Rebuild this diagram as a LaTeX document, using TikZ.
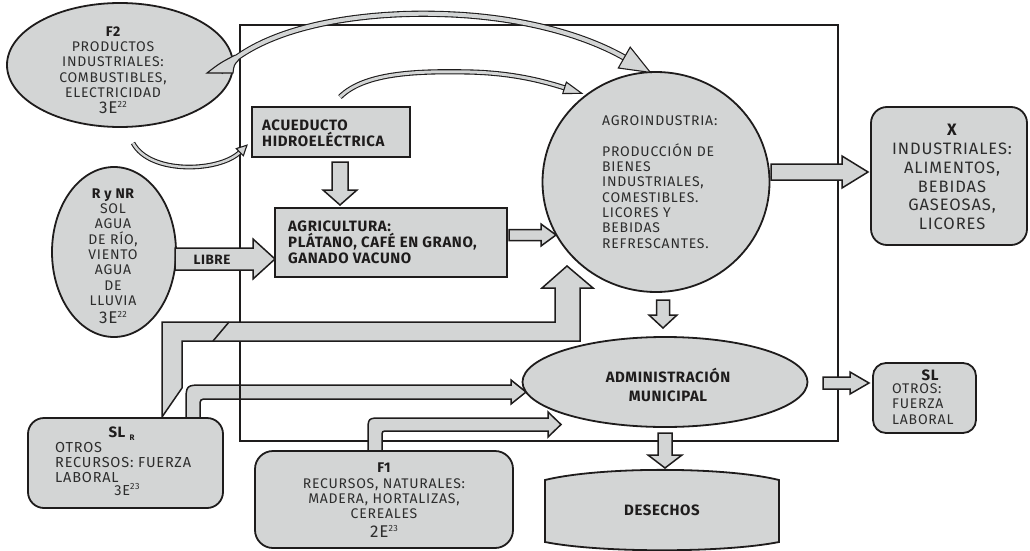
\documentclass[tikz,border=0pt]{standalone}
\usepackage{fontspec}
\setmainfont{Fira Sans}[LetterSpace=5.5,BoldFeatures={LetterSpace=4}]
\usetikzlibrary{shapes.geometric,decorations.markings,calc}
\definecolor{fillg}{RGB}{211,213,213}
\definecolor{ln}{RGB}{30,28,28}
\definecolor{txt}{RGB}{45,45,45}
\newcommand\fsN{\fontsize{14}{15.3}\selectfont}
\newcommand\fsB{\bfseries\fontsize{15}{16}\selectfont}
\newcommand\fsBig{\fontsize{17}{18}\selectfont}
\newcommand\supx[1]{\raisebox{6pt}{\fontsize{9}{9}\selectfont #1}}
\newcommand\hblk[5]{\draw[barrow] let \p1=(#1), \p2=(#2) in (\x1,\y2+#3pt) -- (\x2-#5pt,\y2+#3pt) -- (\x2-#5pt,\y2+#4pt) -- (\x2,\y2) -- (\x2-#5pt,\y2-#4pt) -- (\x2-#5pt,\y2-#3pt) -- (\x1,\y2-#3pt) -- cycle;}
\newcommand\vblk[5]{\draw[barrow] let \p1=(#1), \p2=(#2) in (\x2-#3pt,\y1) -- (\x2-#3pt,\y2+#5pt) -- (\x2-#4pt,\y2+#5pt) -- (\x2,\y2) -- (\x2+#4pt,\y2+#5pt) -- (\x2+#3pt,\y2+#5pt) -- (\x2+#3pt,\y1) -- cycle;}
\tikzset{
  shapeb/.style={draw=ln, line width=1.8pt, fill=fillg, inner sep=0pt},
  barrow/.style={draw=ln, line width=1.5pt, fill=fillg, line join=miter},
  tx/.style={text=txt, align=center, inner sep=0pt, font=\fsN},
  txb/.style={text=ln, align=center, inner sep=0pt, font=\fsB},
  cband/.style={draw=ln, line width=1.1pt, double=fillg, double distance=#1},
  chead/.style n args={2}{postaction={decorate,decoration={markings,mark=at position 0.998 with {\draw[draw=ln,line width=1.1pt,fill=fillg,line join=miter] (0,-#2) -- (#1,0) -- (0,#2) -- cycle;}}}}
}
\begin{document}
\begin{tikzpicture}[x=1pt,y=-1pt]
\useasboundingbox (0,0) rectangle (1030,551);

% band SL_R -> admin (under frame)
\coordinate (b2tip) at (526,392);
\draw[barrow] (186,420) -- (186,403) .. controls (186,385) .. (204,385) -- (511,385) -- (511,380) -- (b2tip) -- (511,404) -- (511,399) -- (208,399) .. controls (200,399) .. (200,407) -- (200,420) -- cycle;

% frame
\node[draw=ln, line width=1.8pt, minimum width=598, minimum height=416, inner sep=0] (frame) at (539,233) {};

% band SL_R -> agro
\coordinate (b1tip) at (567,266);
\draw[barrow] (162,417) -- (162,322) -- (555,322) -- (555,288) -- (542,288) -- (b1tip) -- (593,288) -- (580,288) -- (580,341) -- (182,341) -- (182,388) -- cycle;
\draw[draw=ln, line width=1.5pt] (229,322) -- (213,341);

% band F1 -> frame
\coordinate (b3tip) at (561,424.5);
\draw[barrow] (368,453) -- (368,432) .. controls (368,418) .. (382,418) -- (548,418) -- (548,412) -- (b3tip) -- (548,437) -- (548,431) -- (388,431) .. controls (382,431) .. (382,437) -- (382,453) -- cycle;

% shapes
\node[shapeb, ellipse, minimum width=226, minimum height=124] (f2) at (120,65) {};
\node[shapeb, ellipse, minimum width=124, minimum height=170] (rnr) at (114,252) {};
\node[shapeb, rectangle, minimum width=158, minimum height=50] (acu) at (331,132) {};
\node[shapeb, rectangle, minimum width=232, minimum height=69] (agri) at (391,242.5) {};
\node[shapeb, ellipse, minimum width=227, minimum height=220] (agro) at (656,182) {};
\node[shapeb, rectangle, rounded corners=16pt, minimum width=156, minimum height=138] (xb) at (949,176) {};
\node[shapeb, ellipse, minimum width=285, minimum height=90] (adm) at (665,382) {};
\node[shapeb, rectangle, rounded corners=13pt, minimum width=103, minimum height=70] (slb) at (924.5,398) {};
\node[shapeb, rectangle, rounded corners=18pt, minimum width=258, minimum height=97] (f1) at (384,499.5) {};
\node[shapeb, rectangle, rounded corners=16pt, minimum width=195, minimum height=90] (slr) at (125.5,463) {};
\draw[shapeb] (545,480) .. controls (600,466.5) and (724,466.5) .. (779,480) -- (779,542) .. controls (724,553) and (600,553) .. (545,542) -- cycle;
\node[txb] (des) at (662,510) {DESECHOS};

% block arrows
\coordinate (a1s) at (340,162); \coordinate (a1e) at (340,205);
\vblk{a1s}{a1e}{8}{17}{15}
\coordinate (a2s) at (175,259); \coordinate (a2e) at (275,259);
\hblk{a2s}{a2e}{11}{20}{22}
\coordinate (a3s) at (509,235); \coordinate (a3e) at (556,235);
\hblk{a3s}{a3e}{5.5}{11}{15}
\coordinate (a4s) at (771,172); \coordinate (a4e) at (868,172);
\hblk{a4s}{a4e}{8}{16}{26}
\coordinate (a5s) at (663,300); \coordinate (a5e) at (663,328);
\vblk{a5s}{a5e}{6.5}{14}{13}
\coordinate (a6s) at (823,383); \coordinate (a6e) at (869,383);
\hblk{a6s}{a6e}{6}{11}{19}
\coordinate (a7s) at (665,433); \coordinate (a7e) at (665,468);
\vblk{a7s}{a7e}{7}{17}{13}

% curved arrows
\coordinate (c1s) at (220,72); \coordinate (c1e) at (625,58);
\draw[cband=4pt] (c1s) .. controls (270,20) and (380,12) .. (440,14) .. controls (520,16) and (585,35) .. (c1e);
\path[chead={30}{12}] (c1s) .. controls (270,20) and (380,12) .. (440,14) .. controls (520,16) and (585,35) .. (c1e);
\fill[fillg] (207,73) -- (233,73) .. controls (234,65) .. (238.5,60.2) -- (234.9,55.2) .. controls (220,63) .. (207,73) -- cycle;
\draw[draw=ln, line width=1.1pt, line join=miter] (238.5,60.2) .. controls (234,65) .. (233,73) -- (207,73) .. controls (220,63) .. (234.9,55.2);
\coordinate (c2s) at (340,97); \coordinate (c2e) at (565,88);
\draw[cband=3pt] (c2s) .. controls (365,72) and (420,71) .. (470,72) .. controls (510,73) and (540,80) .. (c2e);
\path[chead={18}{6}] (c2s) .. controls (365,72) and (420,71) .. (470,72) .. controls (510,73) and (540,80) .. (c2e);
\coordinate (c3s) at (133,143); \coordinate (c3e) at (240,152);
\draw[cband=2.5pt] (c3s) .. controls (150,175) and (220,172) .. (c3e);
\path[chead={10}{5}] (c3s) .. controls (150,175) and (220,172) .. (c3e);

% texts
\node[tx] (f2t) at (113,62) {\textbf{\color{ln}F2}\\PRODUCTOS\\INDUSTRIALES:\\COMBUSTIBLES,\\ELECTRICIDAD};
\node[tx, font=\fsBig] (f2n) at (113,108) {3E\supx{22}};
\node[tx] (rnrt) at (113,247) {\textbf{\color{ln}R y NR}\\SOL\\AGUA\\DE RÍO,\\VIENTO\\AGUA\\DE\\LLUVIA};
\node[tx, font=\fsBig] (rnrn) at (113,318) {3E\supx{22}};
\node[txb, align=left, anchor=west] (acut) at (262,133) {ACUEDUCTO\\HIDROELÉCTRICA};
\node[txb, align=left, anchor=west] (agrit) at (288,242) {AGRICULTURA:\\PLÁTANO, CAFÉ EN GRANO,\\GANADO VACUNO};
\node[txb, font=\bfseries\fontsize{13.5}{15}\selectfont] (libre) at (212,260) {LIBRE};
\node[tx, align=left, anchor=west] (agrot) at (602,182) {AGROINDUSTRIA:\\[15.3pt]PRODUCCIÓN DE\\BIENES\\INDUSTRIALES,\\COMESTIBLES.\\LICORES Y\\BEBIDAS\\REFRESCANTES.};
\node[tx, font=\fontsize{16.5}{18.8}\selectfont] (xt) at (952,177) {\textbf{\color{ln}X}\\INDUSTRIALES:\\ALIMENTOS,\\BEBIDAS\\GASEOSAS,\\LICORES};
\node[txb, font=\bfseries\fontsize{15}{19}\selectfont] (admt) at (668,385) {ADMINISTRACIÓN\\MUNICIPAL};
\node[txb] (slt) at (930,375) {SL};
\node[tx, align=left, anchor=west] (slt2) at (892,404) {OTROS:\\FUERZA\\LABORAL};
\node[tx] (f1t) at (384,491) {\textbf{\color{ln}F1}\\RECURSOS, NATURALES:\\MADERA, HORTALIZAS,\\CEREALES};
\node[tx, font=\fsBig] (f1n) at (384,531) {2E\supx{23}};
\node[txb] (slrt) at (117,432) {SL};
\node[txb, font=\bfseries\fontsize{8}{8}\selectfont] (slrr) at (132,438) {R};
\node[tx, align=left, anchor=west, font=\fontsize{14.5}{15}\selectfont] (slrt2) at (55,462) {OTROS\\RECURSOS: FUERZA\\LABORAL};
\node[tx, font=\fontsize{14.5}{15}\selectfont] (slrn) at (127,490) {3E\supx{23}};
\end{tikzpicture}
\end{document}
